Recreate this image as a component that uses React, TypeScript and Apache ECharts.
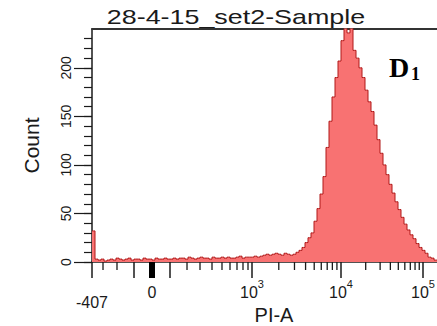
import React, { useEffect, useRef } from "react";
import * as echarts from "echarts";

const chartTitle = "28-4-15_set2-Sample";
const xAxisName = "PI-A";
const yAxisName = "Count";
const panelLetter = "D";
const panelIndex = "1";

// Histogram counts per display channel (each channel = 1/115 of the visible x range, from -407 upward)
const counts = [
  32,
  3, 2, 3, 1, 2, 3, 2, 4, 3, 2, 3, 4, 2, 3, 3, 2, 4, 3, 3, 2, 4, 3, 3, 4, 3,
  3, 4, 3, 4, 4, 3, 5, 4, 3, 4, 5, 4, 4, 3, 5, 4, 4, 5, 4, 5, 4, 4, 5, 6, 4, 5, 5,
  5, 6, 5, 6, 7, 8, 7, 8, 9, 8, 7, 9, 8, 7, 8,
  10, 12, 15, 20, 25, 30, 42, 55, 70, 88, 118, 145, 170, 190, 207, 228, 242, 236, 245, 218,
  210, 200, 190, 177, 165, 155, 141, 126, 112, 100, 90, 80, 71, 62, 54, 46, 39, 33, 28, 24,
  19, 15, 12, 9, 5, 4, 2,
];

const yMax = 240;
const yMajorValues = [0, 50, 100, 150, 200];
const yMinorValues = [0, 10, 20, 30, 40, 50, 60, 70, 80, 90, 100, 110, 120, 130, 140, 150, 160, 170, 180, 190, 200, 210, 220, 230];

// Biexponential display scale: PI-A value -> display channel
const scaleValues = [-407, -300, -200, -100, 0, 100, 200, 300, 400, 500, 600, 700, 800, 900, 1000, 10000, 100000];
const scaleChannels = [0, 3.67, 8.33, 14, 20, 26, 31.67, 36, 40, 43.33, 46, 48.33, 50.33, 52, 53.33, 83, 110.33];
const xChannelMax = 121.33;

const xMajorValues = [-407, -100, 0, 100, 1000, 10000, 100000];
const xMinorValues = [
  -300, -200, 200, 300, 400, 500, 600, 700, 800, 900,
  2000, 3000, 4000, 5000, 6000, 7000, 8000, 9000,
  20000, 30000, 40000, 50000, 60000, 70000, 80000, 90000,
];
const xZeroValue = 0;
const xLabelValues = [-407, 0, 1000, 10000, 100000];
const xLabelTexts = ["{neg|-407}", "{z|0}", "{d|10}{sup|3}", "{d|10}{sup|4}", "{d|10}{sup|5}"];

function toChannel(v: number): number {
  for (let i = 0; i < scaleValues.length - 1; i++) {
    const a = scaleValues[i];
    const b = scaleValues[i + 1];
    if (v >= a && v <= b) {
      const ca = scaleChannels[i];
      const cb = scaleChannels[i + 1];
      const t = a >= 1000 ? Math.log10(v / a) / Math.log10(b / a) : (v - a) / (b - a);
      return Math.round((ca + (cb - ca) * t) * 100) / 100;
    }
  }
  const n = scaleValues.length;
  return scaleChannels[n - 1] + (scaleChannels[n - 1] - scaleChannels[n - 2]) * Math.log10(v / scaleValues[n - 1]);
}

const SANS = "'Liberation Sans', Arial, sans-serif";
const SERIF = "'Liberation Serif', 'Times New Roman', serif";
const INK = "#1a1a1a";

export default function App() {
  const ref = useRef<HTMLDivElement>(null);
  useEffect(() => {
    if (!ref.current) return;
    const chart = echarts.init(ref.current, undefined, { renderer: "svg" });
    const labelChannels = xLabelValues.map((v) => toChannel(v));
    const majorChannels = xMajorValues.map((v) => toChannel(v));
    const minorChannels = xMinorValues.map((v) => toChannel(v));
    const baseX = { type: "value", min: 0, max: xChannelMax, splitLine: { show: false } };
    const baseY = { type: "value", min: 0, max: yMax, splitLine: { show: false } };
    const data: number[][] = [[0, counts[0]]];
    counts.forEach((c, i) => data.push([i + 0.5, c]));
    data.push([counts.length, counts[counts.length - 1]]);

    const textGraphics: any[] = [
      {
        type: "text",
        x: 236,
        y: 17,
        scaleX: 1.28,
        style: { text: chartTitle, fontFamily: SANS, fontSize: 21, fill: INK, align: "center", verticalAlign: "middle" },
      },
      {
        type: "text",
        x: 389,
        y: 67,
        style: { text: panelLetter, fontFamily: SERIF, fontSize: 28, fontWeight: "bold", fill: "#000", align: "left", verticalAlign: "middle" },
      },
      {
        type: "text",
        x: 411,
        y: 74,
        style: { text: panelIndex, fontFamily: SERIF, fontSize: 18, fontWeight: "bold", fill: "#000", align: "left", verticalAlign: "middle" },
      },
    ];

    chart.setOption({
      animation: false,
      grid: { left: 92, width: 364, top: 29, height: 233, containLabel: false, outerBoundsMode: "none" },
      xAxis: [
        {
          ...baseX,
          position: "bottom",
          name: xAxisName,
          nameLocation: "middle",
          nameGap: 43,
          nameMoveOverlap: false,
          nameTextStyle: { fontFamily: SANS, fontSize: 20, color: INK },
          axisLine: { show: true, onZero: false, lineStyle: { color: INK, width: 1.5 } },
          axisTick: { show: false },
          axisLabel: {
            show: true,
            customValues: labelChannels,
            margin: 16,
            color: INK,
            fontFamily: SANS,
            fontSize: 16,
            verticalAlign: "top",
            formatter: (val: number) => {
              let best = 0;
              labelChannels.forEach((c, i) => {
                if (Math.abs(c - val) < Math.abs(labelChannels[best] - val)) best = i;
              });
              return xLabelTexts[best];
            },
            rich: {
              d: { fontFamily: SANS, fontSize: 16, color: INK, lineHeight: 22, verticalAlign: "bottom" },
              z: { fontFamily: SANS, fontSize: 16, color: INK, lineHeight: 22, verticalAlign: "bottom" },
              neg: { fontFamily: SANS, fontSize: 16, color: INK, lineHeight: 32, verticalAlign: "bottom" },
              sup: { fontFamily: SANS, fontSize: 11, color: INK, verticalAlign: "top" },
            },
          },
        },
        {
          ...baseX,
          position: "bottom",
          axisLine: { show: false, onZero: false },
          axisTick: { show: true, customValues: majorChannels, length: 16, lineStyle: { color: INK, width: 1.5 } },
          axisLabel: { show: false },
        },
        {
          ...baseX,
          position: "bottom",
          axisLine: { show: false, onZero: false },
          axisTick: { show: true, customValues: [toChannel(xZeroValue)], length: 16, lineStyle: { color: "#000", width: 6 } },
          axisLabel: { show: false },
        },
        {
          ...baseX,
          position: "top",
          axisLine: { show: true, onZero: false, lineStyle: { color: "#333", width: 2 } },
          axisTick: { show: false },
          axisLabel: { show: false },
        },
      ],
      yAxis: [
        {
          ...baseY,
          position: "left",
          name: yAxisName,
          nameLocation: "middle",
          nameGap: 50,
          nameTextStyle: { fontFamily: SANS, fontSize: 21, color: INK },
          axisLine: { show: true, onZero: false, lineStyle: { color: INK, width: 1.5 } },
          axisTick: { show: true, customValues: yMajorValues, length: 18, lineStyle: { color: INK, width: 1.2 } },
          axisLabel: {
            show: true,
            customValues: yMajorValues,
            rotate: 90,
            margin: 19,
            color: INK,
            fontFamily: SANS,
            fontSize: 14,
          },
        },
        {
          ...baseY,
          position: "left",
          axisLine: { show: false, onZero: false },
          axisTick: { show: true, customValues: yMinorValues, length: 8, lineStyle: { color: INK, width: 1.2 } },
          axisLabel: { show: false },
        },
      ],
      graphic: textGraphics,
      series: [
        {
          type: "line",
          xAxisIndex: 0,
          yAxisIndex: 0,
          step: "middle",
          symbol: "none",
          data,
          clip: true,
          lineStyle: { color: "#B01818", width: 1 },
          areaStyle: { color: "#F87272", opacity: 1 },
        },
      ],
    });

    // Minor ticks of the biexponential x axis, placed through the axis scale (convertToPixel)
    const y0 = chart.convertToPixel({ yAxisIndex: 0 }, 0) as number;
    const tickGraphics = minorChannels.map((c) => {
      const px = chart.convertToPixel({ xAxisIndex: 0 }, c) as number;
      return {
        type: "line",
        silent: true,
        z: 100,
        shape: { x1: px, y1: y0, x2: px, y2: y0 + 8 },
        style: { stroke: INK, lineWidth: 1.3 },
      };
    });
    chart.setOption({ graphic: [...textGraphics, ...tickGraphics] }, { replaceMerge: ["graphic"] });

    return () => chart.dispose();
  }, []);

  return <div ref={ref} style={{ position: "fixed", left: 0, top: 0, width: 437, height: 326, background: "#fff" }} />;
}
